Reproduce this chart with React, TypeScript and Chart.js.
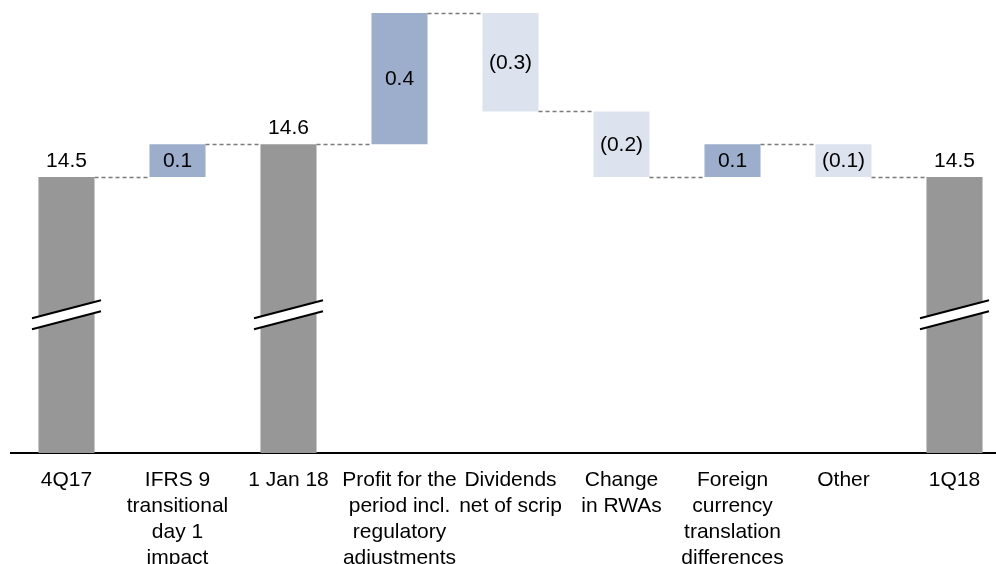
import { useEffect, useRef } from "react";
import { Chart, registerables } from "chart.js";

Chart.register(...registerables);

// ---- data ----
const categories: string[][] = [
  ["4Q17"],
  ["IFRS 9", "transitional", "day 1", "impact"],
  ["1 Jan 18"],
  ["Profit for the", "period incl.", "regulatory", "adjustments"],
  ["Dividends", "net of scrip"],
  ["Change", "in RWAs"],
  ["Foreign", "currency", "translation", "differences"],
  ["Other"],
  ["1Q18"],
];
const values = [14.5, 0.1, 14.6, 0.4, -0.3, -0.2, 0.1, -0.1, 14.5];
const kinds = ["total", "delta", "total", "delta", "delta", "delta", "delta", "delta", "total"];
const valueLabels = ["14.5", "0.1", "14.6", "0.4", "(0.3)", "(0.2)", "0.1", "(0.1)", "14.5"];

// axis range (broken axis) and break position
const Y_MIN = 13.6585;
const Y_MAX = 15.0396;
const BREAK_VALUE = 14.08;

const FONT = "Arial, 'Liberation Sans', Helvetica, sans-serif";
const COLOR_TOTAL = "#979797";
const COLOR_UP = "#9daecd";
const COLOR_DOWN = "#dde3ee";

function buildSeries() {
  const bars: [number, number][] = [];
  const cum: number[] = [];
  const colors: string[] = [];
  let run = 0;
  values.forEach((v, i) => {
    if (kinds[i] === "total") {
      run = v;
      bars.push([Y_MIN, v]);
      colors.push(COLOR_TOTAL);
    } else {
      const next = Math.round((run + v) * 1000) / 1000;
      bars.push([run, next]);
      colors.push(v >= 0 ? COLOR_UP : COLOR_DOWN);
      run = next;
    }
    cum.push(run);
  });
  return { bars, cum, colors };
}

const waterfallPlugin = {
  id: "waterfallDecor",
  afterDatasetsDraw(chart: any) {
    const { ctx } = chart;
    const meta = chart.getDatasetMeta(0);
    const yScale = chart.scales.y;
    const { cum } = buildSeries();
    ctx.save();

    // connectors
    ctx.strokeStyle = "#7a7a7a";
    ctx.lineWidth = 1.5;
    ctx.setLineDash([4, 3]);
    for (let i = 0; i < meta.data.length - 1; i++) {
      const a = meta.data[i];
      const b = meta.data[i + 1];
      const y = Math.round(yScale.getPixelForValue(cum[i])) + 0.5;
      ctx.beginPath();
      ctx.moveTo(a.x + a.width / 2, y);
      ctx.lineTo(b.x - b.width / 2, y);
      ctx.stroke();
    }
    ctx.setLineDash([]);

    // break marks on total bars
    const yb = yScale.getPixelForValue(BREAK_VALUE);
    meta.data.forEach((bar: any, i: number) => {
      if (kinds[i] !== "total") return;
      const x0 = bar.x - 34.5;
      const x1 = bar.x + 34.5;
      const rise = 9;
      const gap = 5.5;
      ctx.fillStyle = "#ffffff";
      ctx.beginPath();
      ctx.moveTo(x0, yb - gap + rise);
      ctx.lineTo(x1, yb - gap - rise);
      ctx.lineTo(x1, yb + gap - rise);
      ctx.lineTo(x0, yb + gap + rise);
      ctx.closePath();
      ctx.fill();
      ctx.strokeStyle = "#000000";
      ctx.lineWidth = 2;
      ctx.beginPath();
      ctx.moveTo(x0, yb - gap + rise);
      ctx.lineTo(x1, yb - gap - rise);
      ctx.moveTo(x0, yb + gap + rise);
      ctx.lineTo(x1, yb + gap - rise);
      ctx.stroke();
    });

    // value labels
    ctx.fillStyle = "#000000";
    ctx.font = `21px ${FONT}`;
    ctx.textAlign = "center";
    meta.data.forEach((bar: any, i: number) => {
      if (kinds[i] === "total") {
        ctx.textBaseline = "alphabetic";
        ctx.fillText(valueLabels[i], bar.x, Math.min(bar.y, bar.base) - 10);
      } else {
        ctx.textBaseline = "middle";
        ctx.fillText(valueLabels[i], bar.x, (bar.y + bar.base) / 2 + 1);
      }
    });
    ctx.restore();
  },
};

export default function App() {
  const ref = useRef<HTMLCanvasElement | null>(null);

  useEffect(() => {
    if (!ref.current) return;
    const { bars, colors } = buildSeries();
    const chart = new Chart(ref.current, {
      type: "bar",
      data: {
        labels: categories,
        datasets: [
          {
            data: bars as any,
            backgroundColor: colors,
            borderWidth: 0,
            categoryPercentage: 1,
            barPercentage: 0.505,
          },
        ],
      },
      options: {
        responsive: false,
        animation: false,
        devicePixelRatio: 1,
        layout: { padding: { left: 11, right: 0, top: 0, bottom: 0 } },
        plugins: { legend: { display: false }, tooltip: { enabled: false } },
        scales: {
          x: {
            grid: { display: false, drawTicks: false, tickLength: 0 },
            border: { display: true, color: "#000000", width: 2 },
            ticks: {
              color: "#000000",
              font: { family: FONT, size: 21, lineHeight: "26px" } as any,
              padding: 14,
              maxRotation: 0,
              minRotation: 0,
              autoSkip: false,
            },
          },
          y: { display: false, min: Y_MIN, max: Y_MAX },
        },
      },
      plugins: [waterfallPlugin],
    });
    return () => chart.destroy();
  }, []);

  return (
    <div
      style={{
        position: "absolute",
        left: 0,
        top: 0,
        width: 996,
        height: 564,
        overflow: "hidden",
        background: "#ffffff",
      }}
    >
      <canvas ref={ref} width={1010} height={585} style={{ display: "block" }} />
    </div>
  );
}
